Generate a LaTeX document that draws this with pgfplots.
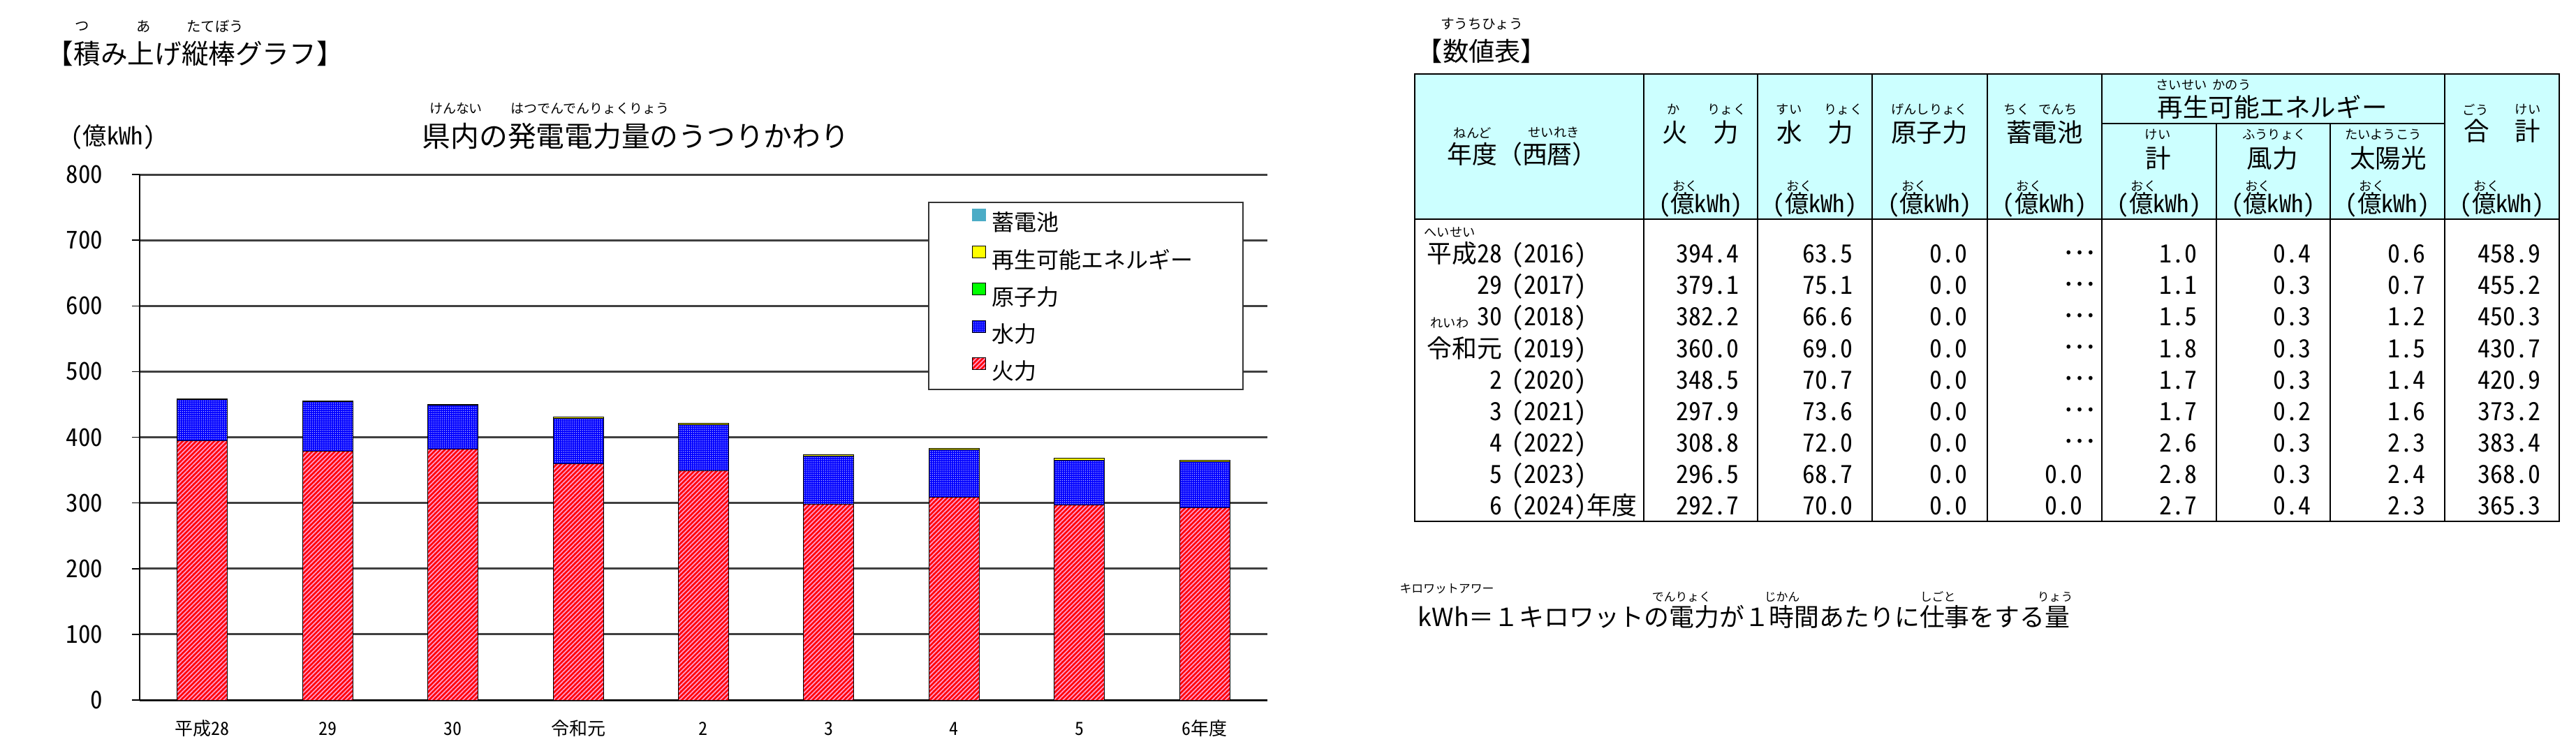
\documentclass[border=0pt]{standalone}
\usepackage{fontspec}
\setmainfont{Noto Sans CJK JP}[RawFeature=+hwid]
\newfontfamily\fw{Noto Sans CJK JP}
\usepackage{pgfplots}
\usepackage{pgfplotstable}
\pgfplotsset{compat=1.18}
\usetikzlibrary{patterns,patterns.meta}
\newcommand\fs[1]{\fontsize{#1pt}{#1pt}\selectfont}
\definecolor{hdr}{HTML}{CCFFFF}
\definecolor{batt}{HTML}{4BACC6}
\definecolor{nuc}{HTML}{00FF00}
\definecolor{ren}{HTML}{FFFF00}
\definecolor{stripe}{HTML}{FF99CC}
\pgfplotsset{lg/.style={legend image code/.code={\path (-6.2mm,0); \draw[##1,line width=0.1mm] (0mm,0.35mm) rectangle (1.9mm,2.05mm);}}}

\pgfplotstableread{
x fire hydro nuclear renew battery
0 394.4 63.5 0 1.0 0
1 379.1 75.1 0 1.1 0
2 382.2 66.6 0 1.5 0
3 360.0 69.0 0 1.8 0
4 348.5 70.7 0 1.7 0
5 297.9 73.6 0 1.7 0
6 308.8 72.0 0 2.6 0
7 296.5 68.7 0 2.8 0
8 292.7 70.0 0 2.7 0
}\gen

\newcommand\lt[1]{\makebox[35.9mm][l]{#1}}

\begin{document}
\begin{tikzpicture}
\path[use as bounding box] (0,0) rectangle (368.9mm,106.5mm);
\begin{axis}[
  at={(20mm,6.2mm)}, anchor=south west,
  scale only axis, width=161.5mm, height=75.3mm,
  ybar stacked, bar width=7.2mm,
  xmin=-0.5, xmax=8.5, ymin=0, ymax=800,
  enlargelimits=false,
  xtick={0,...,8},
  xticklabels={平成28,29,30,令和元,2,3,4,5,6年度},
  ytick={0,100,...,800},
  axis x line=bottom, axis y line=left,
  axis line style={-, line width=0.15mm, black},
  tick align=outside, major tick length=1.1mm,
  xtick style={draw=none},
  ytick style={black, line width=0.15mm},
  ymajorgrids, major grid style={black!75, line width=0.3mm},
  /pgf/number format/assume math mode=true,
  yticklabel style={font=\fs{10}, anchor=east, inner sep=0pt, xshift=-4.1mm},
  xticklabel style={font=\fs{7.4}, anchor=center, inner sep=0pt, yshift=-3mm},
  legend style={at={(0.699,0.948)}, anchor=north west, draw=black!80, line width=0.2mm,
    fill=white, font=\fs{9.1}, inner xsep=0pt, inner ysep=0.9mm, nodes={inner sep=0pt}, row sep=1.6mm,
    /tikz/every odd column/.append style={column sep=0.9mm}},
  legend cell align=left,
  reverse legend,
]
\addplot[fill=red, draw=black, line width=0.1mm,
  postaction={pattern={Lines[angle=45,distance=1.3pt,line width=0.5pt]}, pattern color=stripe}, lg]
  table[x=x,y=fire]{\gen};
\addlegendentry{\lt{火力}}
\addplot[fill=blue, draw=black, line width=0.1mm,
  postaction={pattern={Dots[distance=0.9pt,radius=0.2pt]}, pattern color=white}, lg]
  table[x=x,y=hydro]{\gen};
\addlegendentry{\lt{水力}}
\addplot[fill=nuc, draw=black, line width=0.1mm, lg] table[x=x,y=nuclear]{\gen};
\addlegendentry{\lt{原子力}}
\addplot[fill=ren, draw=black, line width=0.1mm, lg] table[x=x,y=renew]{\gen};
\addlegendentry{\lt{再生可能エネルギー}}
\addplot[fill=batt, draw=batt, line width=0.1mm, lg] table[x=x,y=battery]{\gen};
\addlegendentry{\lt{蓄電池}}
\end{axis}

\begin{scope}[x=0.1mm,y=-0.1mm,yshift=106.5mm, every node/.style={inner sep=0pt}]
% ---- left titles
\node[anchor=west,font=\fw\fs{11}] at (66,77) {【積み上げ縦棒グラフ】};
\node[font=\fs{5.8}] at (118,38) {つ};
\node[font=\fs{5.8}] at (206,38) {あ};
\node[font=\fs{5.8}] at (308,38) {たてぼう};
\node[anchor=west,font=\fs{11.6}] at (604,195) {県内の発電電力量のうつりかわり};
\node[font=\fs{5.4}] at (653,155) {けんない};
\node[font=\fs{5.4}] at (845,155) {はつでんでんりょくりょう};
\node[font=\fs{9.8}] at (162,196) {(億kWh)};
% ---- table title
\node[anchor=west,font=\fw\fs{10.6}] at (2028,73) {【数値表】};
\node[font=\fs{5.6}] at (2122,34) {すうちひょう};
% ---- table frame
\fill[hdr] (2026,106) rectangle (3665,314);
\foreach \x in {2354,2517,2681,2846,3010,3501} \draw[line width=0.12mm] (\x,106) -- (\x,747);
\foreach \x in {3174,3337} \draw[line width=0.12mm] (\x,177) -- (\x,747);
\draw[line width=0.12mm] (3010,177) -- (3501,177);
\draw[line width=0.2mm] (2026,314) -- (3665,314);
\draw[line width=0.2mm] (2026,106) rectangle (3665,747);
% ---- header text
\node[font=\fw\fs{10.2}] at (2180,221) {年度（西暦）};
\node[font=\fs{5.2}] at (2109,190) {ねんど};
\node[font=\fs{5.2}] at (2225,190) {せいれき};
\node[font=\fw\fs{10.4}] at (2435,190) {火　力};
\node[font=\fs{5.2}] at (2397,157) {か};
\node[font=\fs{5.2}] at (2473,157) {りょく};
\node[font=\fw\fs{10.4}] at (2599,190) {水　力};
\node[font=\fs{5.2}] at (2562,157) {すい};
\node[font=\fs{5.2}] at (2640,157) {りょく};
\node[font=\fw\fs{10.4}] at (2763,190) {原子力};
\node[font=\fs{5.2}] at (2763,157) {げんしりょく};
\node[font=\fw\fs{10.4}] at (2928,190) {蓄電池};
\node[font=\fs{5.2}] at (2888,157) {ちく};
\node[font=\fs{5.2}] at (2947,157) {でんち};
\node[font=\fw\fs{10.4}] at (3254,153) {再生可能エネルギー};
\node[font=\fs{5.2}] at (3124,122) {さいせい};
\node[font=\fs{5.2}] at (3196,122) {かのう};
\node[font=\fw\fs{10.4}] at (3091,227) {計};
\node[font=\fs{5.2}] at (3090,193) {けい};
\node[font=\fw\fs{10.4}] at (3254,227) {風力};
\node[font=\fs{5.2}] at (3257,193) {ふうりょく};
\node[font=\fw\fs{10.4}] at (3420,227) {太陽光};
\node[font=\fs{5.2}] at (3413,193) {たいようこう};
\node[font=\fw\fs{10.4}] at (3583,188) {合　計};
\node[font=\fs{5.2}] at (3545,157) {ごう};
\node[font=\fs{5.2}] at (3620,157) {けい};
\foreach \cx in {2435.5,2599,2763.5,2928,3092,3255.5,3419,3583} {
  \node[font=\fs{9.8}] at (\cx,293) {(億kWh)};
  \node[font=\fs{5.2}] at (\cx-22,267) {おく};
}
% ---- body
\node[font=\fs{5.2}] at (2076,333) {へいせい};
\node[font=\fs{5.2}] at (2076,463) {れいわ};
\foreach [count=\i from 0] \era/\yr/\a/\b/\c/\e/\f/\g/\h in {
  平成28/{(2016)}/394.4/63.5/0.0/1.0/0.4/0.6/458.9,
  29/{(2017)}/379.1/75.1/0.0/1.1/0.3/0.7/455.2,
  30/{(2018)}/382.2/66.6/0.0/1.5/0.3/1.2/450.3,
  令和元/{(2019)}/360.0/69.0/0.0/1.8/0.3/1.5/430.7,
  2/{(2020)}/348.5/70.7/0.0/1.7/0.3/1.4/420.9,
  3/{(2021)}/297.9/73.6/0.0/1.7/0.2/1.6/373.2,
  4/{(2022)}/308.8/72.0/0.0/2.6/0.3/2.3/383.4,
  5/{(2023)}/296.5/68.7/0.0/2.8/0.3/2.4/368.0,
  6/{(2024)年度}/292.7/70.0/0.0/2.7/0.4/2.3/365.3} {
  \pgfmathsetmacro\yy{377+45*\i}
  \node[anchor=base east,font=\fs{10.2}] at (2152,\yy) {\era};
  \node[anchor=base west,font=\fs{10.2}] at (2164,\yy) {\yr};
  \node[anchor=base east,font=\fs{10.2}] at (2491,\yy) {\a};
  \node[anchor=base east,font=\fs{10.2}] at (2654,\yy) {\b};
  \node[anchor=base east,font=\fs{10.2}] at (2818,\yy) {\c};
  \node[anchor=base east,font=\fs{10.2}] at (3147,\yy) {\e};
  \node[anchor=base east,font=\fs{10.2}] at (3310,\yy) {\f};
  \node[anchor=base east,font=\fs{10.2}] at (3474,\yy) {\g};
  \node[anchor=base east,font=\fs{10.2}] at (3639,\yy) {\h};
}
\foreach \i in {0,...,6} {
  \pgfmathsetmacro\yy{377+45*\i}
  \node[anchor=base east,font=\fw\fs{12}] at (3001,\yy) {\raisebox{0.3em}{…}};
}
\foreach \i in {7,8} {
  \pgfmathsetmacro\yy{377+45*\i}
  \node[anchor=base east,font=\fs{10.2}] at (2983,\yy) {0.0};
}
% ---- footnote
\node[anchor=west,font=\fw\fs{10.2}] at (2030,884) {kWh＝１キロワットの電力が１時間あたりに仕事をする量};
\node[font=\fs{4.8}] at (2072,843) {キロワットアワー};
\node[font=\fs{4.8}] at (2408,855) {でんりょく};
\node[font=\fs{4.8}] at (2552,855) {じかん};
\node[font=\fs{4.8}] at (2775,855) {しごと};
\node[font=\fs{4.8}] at (2943,855) {りょう};
\end{scope}
\end{tikzpicture}
\end{document}
